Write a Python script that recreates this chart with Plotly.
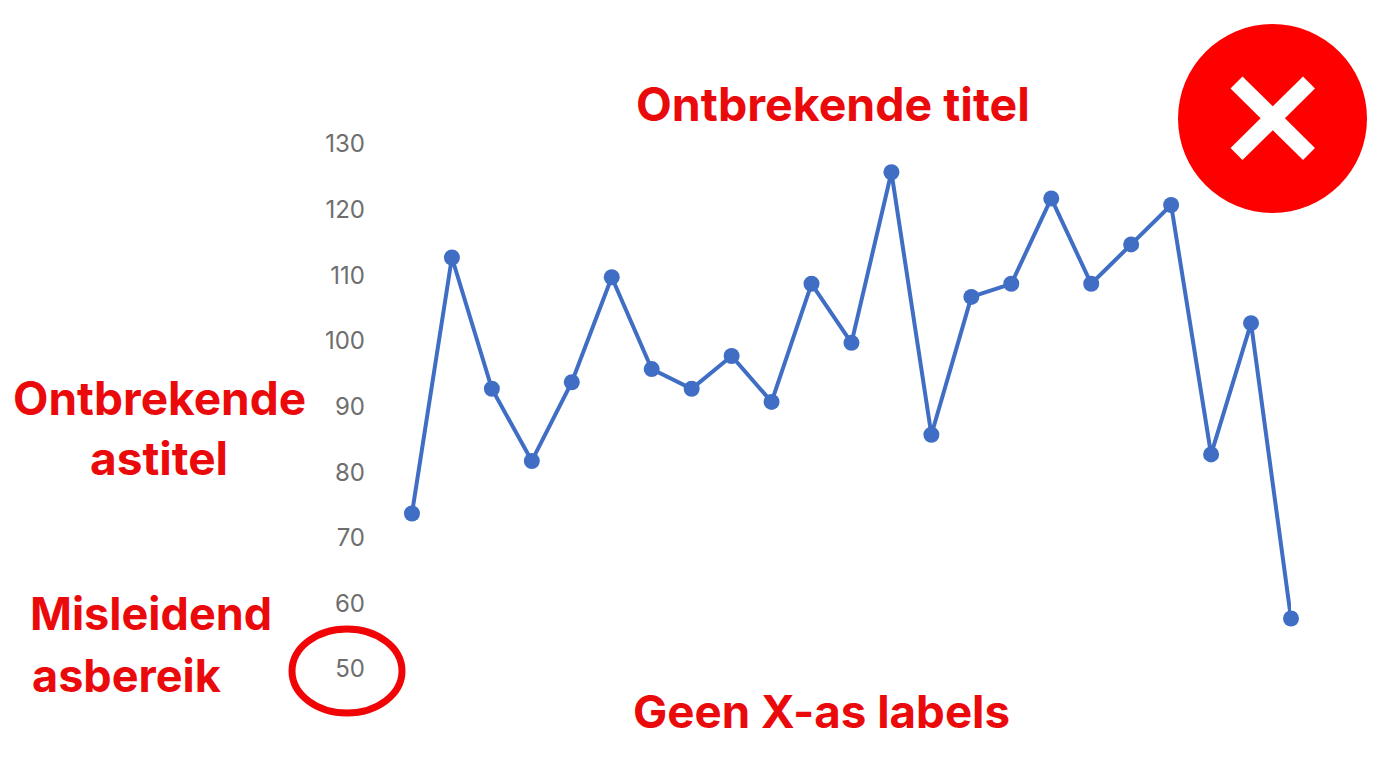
import plotly.graph_objects as go

punten = list(range(1, 24))
waarden = [73.7, 112.7, 92.7, 81.7, 93.7, 109.7, 95.7, 92.7, 97.7, 90.7, 108.7, 99.7, 125.7, 85.7, 106.7, 108.7,
           121.7, 108.7, 114.7, 120.7, 82.7, 102.7, 57.7]
y_ticks = [50, 60, 70, 80, 90, 100, 110, 120, 130]

W, H = 1392, 768
OFF = 8  # de pagina zet de figuur 8px naar binnen
L, R, T, B = 364, 109, 136, 107
ROOD = "#ea0a0c"


# pixels van de afbeelding naar paper-coordinaten
def px(x):
    return (x - OFF - L) / (W - L - R)


def py(y):
    return 1 - (y - OFF - T) / (H - T - B)


def tekst(x, y, s, size):
    return dict(x=px(x), y=py(y), xref="paper", yref="paper", text=s, showarrow=False,
                xanchor="center", yanchor="middle", align="center",
                font=dict(family="Inter", size=size, color=ROOD, weight=700))


fig = go.Figure()
fig.add_trace(go.Scatter(x=punten, y=waarden, mode="lines+markers", cliponaxis=False,
                         line=dict(color="#3f6ec4", width=4),
                         marker=dict(color="#3f6ec4", size=16)))

fig.add_annotation(tekst(833, 104, "Ontbrekende titel", 46.5))
fig.add_annotation(tekst(159, 398, "Ontbrekende", 46))
fig.add_annotation(tekst(159, 458, "astitel", 46))
fig.add_annotation(tekst(151, 613, "Misleidend", 45))
fig.add_annotation(tekst(126, 675, "asbereik", 45))
fig.add_annotation(tekst(821, 711, "Geen X-as labels", 45.7))

# rode cirkel met kruis
fig.add_shape(type="circle", xref="paper", yref="paper", x0=px(1178), x1=px(1367), y0=py(24), y1=py(213),
              fillcolor="#fe0000", line=dict(width=0), layer="above")
fig.add_shape(type="line", xref="paper", yref="paper", x0=px(1236.5), x1=px(1309), y0=py(82.5), y1=py(154),
              line=dict(color="white", width=17), layer="above")
fig.add_shape(type="line", xref="paper", yref="paper", x0=px(1309), x1=px(1236.5), y0=py(82.5), y1=py(154),
              line=dict(color="white", width=17), layer="above")

# ellips rond de 50
fig.add_shape(type="circle", xref="paper", yref="paper", x0=px(292), x1=px(402), y0=py(629), y1=py(713),
              line=dict(color="#f00406", width=7), layer="above")

fig.update_layout(width=W, height=H, margin=dict(l=L, r=R, t=T, b=B, autoexpand=False),
                  paper_bgcolor="white", plot_bgcolor="white", showlegend=False)
fig.update_xaxes(range=[0, 23], visible=False)
fig.update_yaxes(range=[50, 130], tickvals=y_ticks, showgrid=False, zeroline=False, showline=False,
                 ticks="", ticklabelstandoff=6, tickfont=dict(family="Inter", size=24, color="#6e6e6e"))

fig.write_html("out.html")
